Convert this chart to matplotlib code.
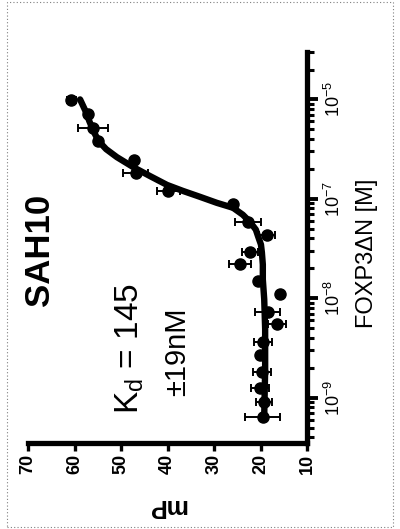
import numpy as np
import matplotlib
matplotlib.use('Agg')
import matplotlib.pyplot as plt
from matplotlib.ticker import FixedLocator, LogLocator, NullFormatter
from matplotlib.patches import Rectangle

plt.rcParams['font.family'] = ['Liberation Sans', 'DejaVu Sans']
plt.rcParams['mathtext.fontset'] = 'custom'
plt.rcParams['mathtext.rm'] = 'Liberation Sans'
plt.rcParams['mathtext.it'] = 'Liberation Sans:italic'
plt.rcParams['mathtext.bf'] = 'Liberation Sans:bold'

# measured points (log10 of FOXP3dN conc., mP, error in mP)
log_conc = [-9.19, -9.04, -8.90, -8.74, -8.57, -8.44, -8.26, -8.14, -7.96, -7.83,
            -7.66, -7.53, -7.36, -7.23, -7.05, -6.92, -6.74, -6.61, -6.42, -6.29,
            -6.15, -6.01]
mp = [19.5, 19.2, 20.1, 19.7, 20.1, 19.5, 16.5, 18.4, 15.8, 20.5,
      24.4, 22.3, 18.6, 22.7, 25.9, 39.8, 46.8, 47.2, 55.0, 56.0,
      57.2, 60.7]
mp_err = [3.8, 1.7, 2.0, 1.9, 0, 2.0, 1.9, 2.7, 0, 0,
          2.4, 1.7, 1.8, 2.7, 0, 2.4, 2.7, 0, 0, 3.2,
          0, 1.0]

# fitted curve
curve_log = [-9.18, -8.72, -8.31, -8.01, -7.81, -7.66, -7.54, -7.46, -7.38, -7.31,
             -7.23, -7.16, -7.09, -7.04, -6.98, -6.92, -6.86, -6.77, -6.68, -6.58,
             -6.50, -6.42, -6.33, -6.22, -6.12, -6.00]
curve_mp = [19.2, 19.0, 19.0, 19.2, 19.5, 19.5, 19.7, 19.9, 20.5, 21.0,
            22.3, 23.8, 25.9, 29.4, 33.0, 36.7, 40.1, 43.8, 47.4, 50.9,
            53.2, 54.8, 55.8, 56.8, 57.6, 58.8]

mp_ticks = [10, 20, 30, 40, 50, 60, 70]
conc_ticks = [1e-9, 1e-8, 1e-7, 1e-6]
conc_labels = [r'$\mathregular{10^{-9}}$', r'$\mathregular{10^{-8}}$',
               r'$\mathregular{10^{-7}}$', r'$\mathregular{10^{-5}}$']

W, H = 400, 529
fig = plt.figure(figsize=(W / 100, H / 100), dpi=100)
ax = fig.add_axes([28 / W, 1 - 443 / H, (307 - 28) / W, (443 - 52) / H])

ax.plot(curve_mp, 10 ** np.array(curve_log), color='black', lw=4.6,
        solid_capstyle='round', solid_joinstyle='round', zorder=2)
ax.errorbar(mp, 10 ** np.array(log_conc), xerr=mp_err, fmt='o', color='black',
            ms=8, elinewidth=1.4, capsize=3, capthick=1.4, zorder=3)

ax.set_yscale('log')
ax.set_xlim(70, 10)
ax.set_ylim(3.5e-10, 3.0e-6)

for s in ['top', 'left']:
    ax.spines[s].set_visible(False)
for s in ['bottom', 'right']:
    ax.spines[s].set_linewidth(3.8)
    ax.spines[s].set_capstyle('projecting')

ax.xaxis.set_major_locator(FixedLocator(mp_ticks))
ax.set_xticklabels([str(t) for t in mp_ticks], fontweight='bold', rotation=90)
ax.tick_params(axis='x', direction='out', length=6, width=2.4, labelsize=13, pad=2)

ax.yaxis.tick_right()
ax.yaxis.set_major_locator(FixedLocator(conc_ticks))
ax.yaxis.set_minor_locator(LogLocator(base=10, subs=np.arange(2, 10)))
ax.yaxis.set_minor_formatter(NullFormatter())
ax.set_yticklabels(conc_labels)
for lbl in ax.get_yticklabels():
    lbl.set_rotation(90)
    lbl.set_va('center')
ax.tick_params(axis='y', which='major', direction='out', length=8, width=2.8,
               labelsize=13, pad=4)
ax.tick_params(axis='y', which='minor', direction='out', length=5, width=2.2)

fig.text(40 / W, 1 - 250 / H, 'SAH10', rotation=90, fontsize=25,
         fontweight='bold', ha='center', va='center')
fig.text(130 / W, 1 - 349 / H, r'K$_\mathregular{d}$ = 145', rotation=90,
         fontsize=24, ha='center', va='center')
fig.text(177 / W, 1 - 352 / H, '±19nM', rotation=90, fontsize=21,
         ha='center', va='center')
fig.text(367 / W, 1 - 253 / H, 'FOXP3ΔN [M]', rotation=90, fontsize=17,
         ha='center', va='center')
fig.text(167 / W, 1 - 506 / H, 'mP', rotation=180, fontsize=18,
         fontweight='bold', ha='center', va='center')

fig.patches.append(Rectangle((7 / W, 2 / H), 386 / W, 525 / H,
                             transform=fig.transFigure, fill=False,
                             ls=(0, (1, 2)), lw=0.8, ec='#808080'))

fig.savefig('out.png', dpi=100)
